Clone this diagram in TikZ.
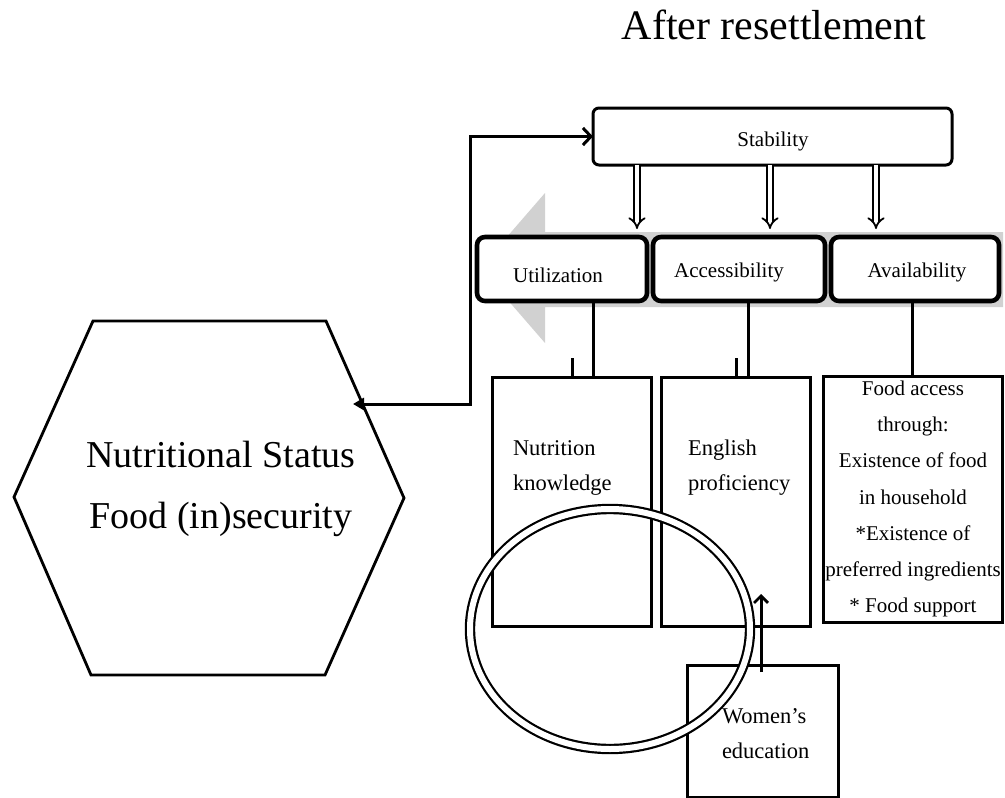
\documentclass[tikz,border=0pt]{standalone}
\usepackage{fontspec}
\setmainfont{Liberation Serif}
\usetikzlibrary{arrows.meta}
\begin{document}
\begin{tikzpicture}[x=1pt,y=-1pt,
  every node/.style={inner sep=0pt, outer sep=0pt},
  txt/.style={font=\fontsize{21}{35}\selectfont},
  btxt/.style={font=\fontsize{22.5}{35}\selectfont},
  bigtxt/.style={font=\fontsize{38}{61}\selectfont},
  stabbox/.style={draw, line width=3pt, rounded corners=6pt, fill=white},
  pillar/.style={draw, line width=4.6pt, rounded corners=8pt, fill=white},
  plainbox/.style={draw, line width=3pt, fill=white},
  conn/.style={line width=3pt},
  dbl/.style={line width=1.8pt, double=white, double distance=4pt, -{Implies}},
]
\useasboundingbox[fill=white] (0,0) rectangle (1005,798);

% title
\node[font=\fontsize{42}{50}\selectfont, anchor=base] (title) at (774,39) {After resettlement};

% grey arrow band
\fill[black!18] (1003,232) -- (545,232) -- (545,193) -- (480,268) -- (545,343) -- (545,307) -- (1003,307) -- cycle;

% stability
\node[stabbox, minimum width=359pt, minimum height=57pt] (stab) at (772.5,136.5) {};
\node[txt, anchor=base] (stabt) at (773,146) {Stability};

% pillars
\node[pillar, minimum width=170pt, minimum height=64pt] (util) at (562,269) {};
\node[pillar, minimum width=172pt, minimum height=64pt] (acc) at (739,269) {};
\node[pillar, minimum width=168pt, minimum height=64pt] (avail) at (915,269) {};
\node[txt, anchor=base] (utilt) at (558,282) {Utilization};
\node[txt, anchor=base] (acct) at (729,277) {Accessibility};
\node[txt, anchor=base] (availt) at (917,277) {Availability};

% double arrows
\coordinate (d1) at (637,229);
\coordinate (d2) at (770,229);
\coordinate (d3) at (876,229);
\draw[dbl] (d1 |- stab.south) -- (d1);
\draw[dbl] (d2 |- stab.south) -- (d2);
\draw[dbl] (d3 |- stab.south) -- (d3);

% bottom boxes
\node[plainbox, minimum width=159pt, minimum height=249pt] (nutr) at (571.5,501.5) {};
\node[plainbox, minimum width=149pt, minimum height=249pt] (eng) at (735.5,501.5) {};
\node[plainbox, minimum width=179pt, minimum height=246pt] (food) at (912.5,499) {};
\node[plainbox, minimum width=151pt, minimum height=132pt] (women) at (762.5,731) {};

\node[btxt, align=left, anchor=west] (nutrt) at (513,468) {Nutrition\\knowledge};
\node[btxt, align=left, anchor=west] (engt) at (688,468) {English\\proficiency};
\node[txt, align=center, font=\fontsize{21}{36.2}\selectfont] (foodt) at (913,499) {Food access\\through:\\Existence of food\\in household\\*Existence of\\preferred ingredients\\* Food support};
\node[btxt, align=left, anchor=west] (woment) at (722,734) {Women’s\\education};

% connectors pillars -> boxes
\coordinate (l1) at (593,0);
\coordinate (l2) at (748,0);
\coordinate (l3) at (912,0);
\draw[conn] (util.south -| l1) -- (nutr.north -| l1);
\draw[conn] (acc.south -| l2) -- (eng.north -| l2);
\draw[conn] (avail.south -| l3) -- (food.north -| l3);
\coordinate (s1) at (572,358);
\coordinate (s2) at (736,358);
\draw[conn] (s1) -- (s1 |- nutr.north);
\draw[conn] (s2) -- (s2 |- eng.north);

% hexagon
\draw[line width=2.8pt, line join=miter] (93,321) coordinate (h1) -- (326,321) coordinate (h2) -- (404,498) coordinate (h3) -- (325,675) coordinate (h4) -- (91,675) coordinate (h5) -- (14,497) coordinate (h6) -- cycle;
\node[bigtxt, align=center] (hext) at (221,489) {Nutritional Status\\Food (in)security};
\coordinate (hexin) at (353,404);
\coordinate (loop) at (470,404);
\draw[conn, {Triangle[length=11pt,width=12pt]}-{Straight Barb[length=8pt,width=17pt,line width=3pt]}] (hexin) -- (loop) |- (stab.west);

% women's education arrow
\coordinate (wtail) at (761,672);
\coordinate (whead) at (761,594);
\draw[conn, -{Straight Barb[length=7pt,width=14pt,line width=2.8pt]}] (wtail) -- (whead);

% ring
\draw[line width=2.2pt, double=white, double distance=6pt] (610,629) ellipse [x radius=140pt, y radius=120pt];
\end{tikzpicture}
\end{document}
